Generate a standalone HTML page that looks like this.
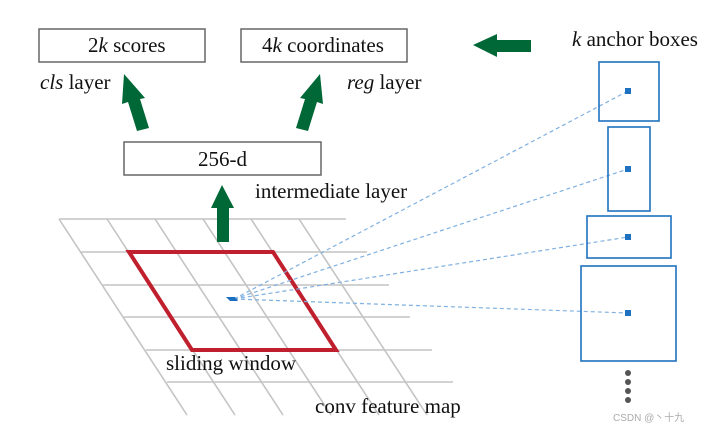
<!DOCTYPE html>
<html><head><style>
body{margin:0;background:#fff;width:709px;height:430px;overflow:hidden}
text{font-family:"Liberation Serif",serif;fill:#111}
</style></head><body>
<svg width="709" height="430" viewBox="0 0 709 430" xmlns="http://www.w3.org/2000/svg">
<g stroke="#c4c4c4" stroke-width="1.6" fill="none">
<line x1="59" y1="219" x2="346" y2="219"/>
<line x1="81" y1="252" x2="367" y2="252"/>
<line x1="103" y1="285" x2="389" y2="285"/>
<line x1="124" y1="317" x2="410" y2="317"/>
<line x1="146" y1="350" x2="432" y2="350"/>
<line x1="167" y1="382" x2="453" y2="382"/>
<line x1="59" y1="219" x2="187" y2="415"/>
<line x1="107" y1="219" x2="235" y2="415"/>
<line x1="155" y1="219" x2="283" y2="415"/>
<line x1="203" y1="219" x2="331" y2="415"/>
<line x1="251" y1="219" x2="379" y2="415"/>
<line x1="299" y1="219" x2="427" y2="415"/>
</g>
<polygon points="129,252 273,252 336,350 192,350" fill="none" stroke="#c0202e" stroke-width="4"/>
<g stroke="#7fb0e0" stroke-width="1.2" stroke-dasharray="4,3" fill="none">
<line x1="234" y1="299" x2="628" y2="91"/>
<line x1="234" y1="299" x2="628" y2="169"/>
<line x1="234" y1="299" x2="628" y2="237"/>
<line x1="234" y1="299" x2="628" y2="313"/>
</g>
<polygon points="226,297 235,297 238,301 230,301" fill="#1a6fc0"/>
<g fill="none" stroke="#1f72c0" stroke-width="1.6">
<rect x="599" y="62" width="60" height="59"/>
<rect x="608" y="127" width="42" height="84"/>
<rect x="587" y="216" width="84" height="42"/>
<rect x="581" y="266" width="95" height="95"/>
</g>
<g fill="#1f72c0">
<rect x="625" y="88" width="6" height="6"/>
<rect x="625" y="166" width="6" height="6"/>
<rect x="625" y="234" width="6" height="6"/>
<rect x="625" y="310" width="6" height="6"/>
</g>
<g fill="#555">
<circle cx="628" cy="373" r="3"/><circle cx="628" cy="382" r="3"/><circle cx="628" cy="391" r="3"/><circle cx="628" cy="400" r="3"/>
</g>
<g fill="#fff" stroke="#666" stroke-width="1.5">
<rect x="39" y="29" width="166" height="33"/>
<rect x="241" y="29" width="166" height="33"/>
<rect x="124" y="142" width="197" height="33"/>
</g>
<g fill="#006837">
<polygon points="124,74 145,98 140,99 149,128 137,131 128,102 122,104"/>
<polygon points="320,74 323,104 317,102 308,131 296,128 305,99 300,98"/>
<polygon points="222,185 234,208 229,208 229,242 217,242 217,208 211,208"/>
<polygon points="473,45 497,34 497,40 531,40 531,52 497,52 497,57"/>
</g>
<g font-size="21">
<text x="88" y="52">2<tspan font-style="italic">k</tspan> scores</text>
<text x="262" y="52">4<tspan font-style="italic">k</tspan> coordinates</text>
<text x="198" y="166">256-d</text>
<text x="40" y="89"><tspan font-style="italic">cls</tspan> layer</text>
<text x="347" y="89"><tspan font-style="italic">reg</tspan> layer</text>
<text x="255" y="198">intermediate layer</text>
<text x="166" y="370">sliding window</text>
<text x="315" y="413">conv feature map</text>
<text x="572" y="46"><tspan font-style="italic">k</tspan> anchor boxes</text>
</g>
<text x="613" y="421" font-size="10" style="fill:#aaa;font-family:'Liberation Sans','Noto Sans CJK SC',sans-serif">CSDN @丶十九</text>
</svg>
</body></html>
